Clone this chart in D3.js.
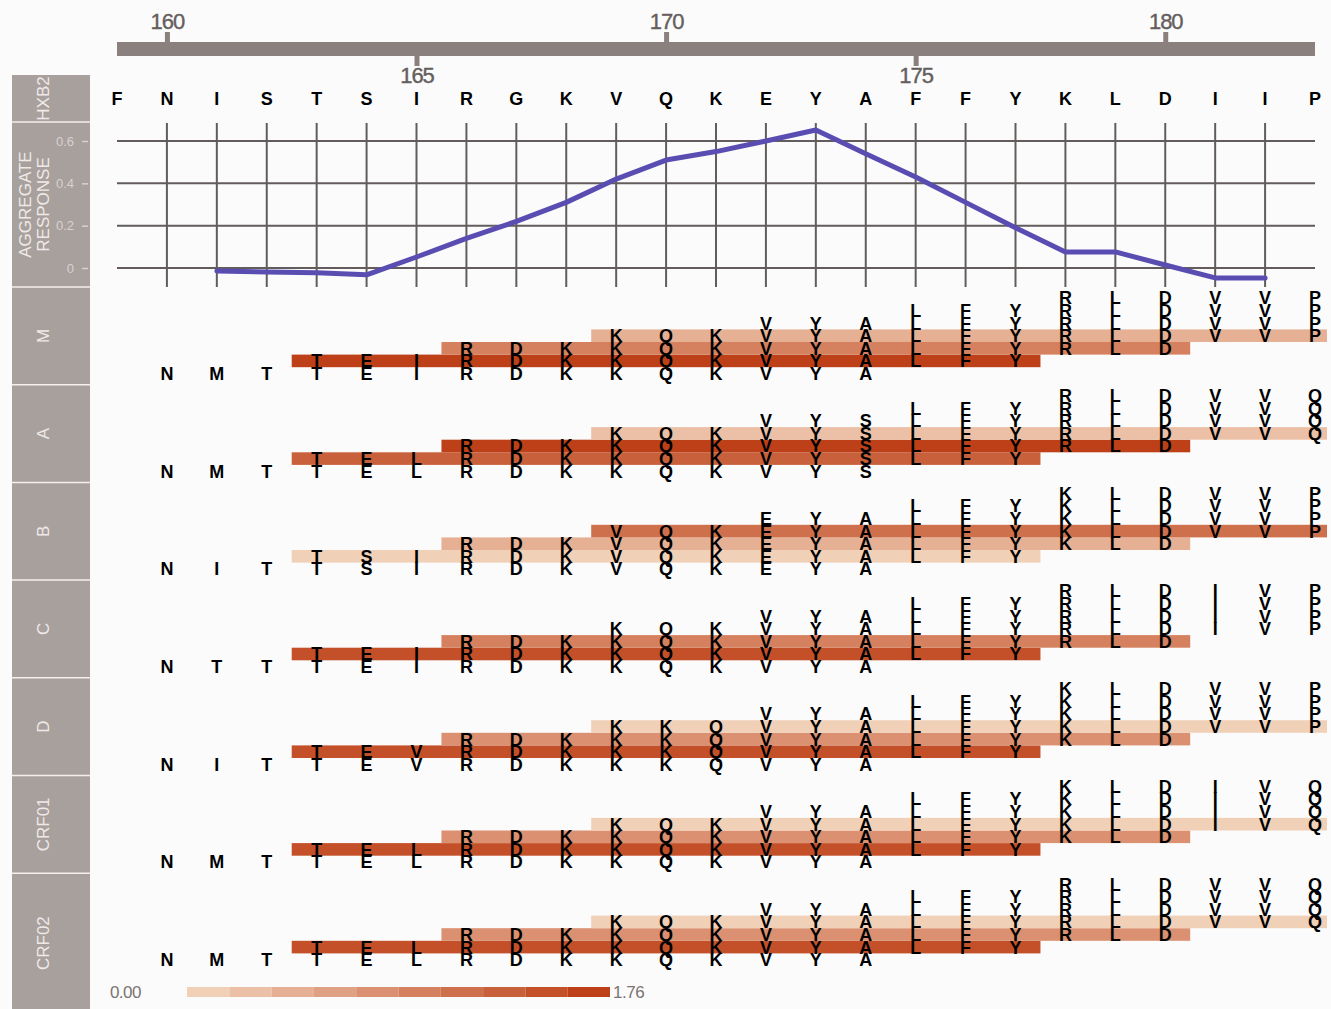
<!DOCTYPE html>
<html>
<head>
<meta charset="utf-8">
<script src="https://cdn.jsdelivr.net/npm/d3@7"></script>
<style>
  body { margin: 0; background: #fbfbfc; }
  svg { display: block; font-family: "Liberation Sans", Arial, Helvetica, sans-serif; }
</style>
</head>
<body>
<svg id="chart" width="1331" height="1009"></svg>
<script>
// HXB2 reference, positions 159..183
var firstPos = 159, lastPos = 183;
var hxb2 = "FNISTSIRGKVQKEYAFFYKLDIIP".split("");
var topTicksAbove = [160, 170, 180];
var topTicksBelow = [165, 175];

// aggregate response line
var respPos = [161, 162, 163, 164, 165, 166, 167, 168, 169, 170, 171,
               172, 173, 174, 175, 176, 177, 178, 179, 180, 181, 182];
var respVal = [-0.014, -0.019, -0.023, -0.032, 0.052, 0.14, 0.22, 0.31, 0.42, 0.51, 0.55,
               0.60, 0.652, 0.54, 0.43, 0.31, 0.19, 0.076, 0.076, 0.014, -0.047, -0.047];
var respTicks = [0, 0.2, 0.4, 0.6];

// subtypes, consensus from 160 to 183
var subtypes = ["M", "A", "B", "C", "D", "CRF01", "CRF02"];
var consensus = [
  "NMTTEIRDKKQKVYALFYRLDVVP",
  "NMTTELRDKKQKVYSLFYRLDVVQ",
  "NITTSIRDKVQKEYALFYKLDVVP",
  "NTTTEIRDKKQKVYALFYRLDIVP",
  "NITTEVRDKKKQVYALFYKLDVVP",
  "NMTTELRDKKQKVYALFYKLDIVQ",
  "NMTTELRDKKQKVYALFYRLDVVQ"
];
var seqStart = 160;

// 15-mer peptides, one row each, with their response
var peptideStarts = [160, 163, 166, 169, 172, 175, 178];
var peptideLen = 15;
var peptideResp = [
  [0, 1.62, 1.00, 0.40, 0, 0, 0],   // M
  [0, 1.30, 1.62, 0.25, 0, 0, 0],   // A
  [0, 0.08, 0.36, 1.22, 0, 0, 0],   // B
  [0, 1.58, 0.95, 0, 0, 0, 0],      // C
  [0, 1.50, 0.88, 0.15, 0, 0, 0],   // D
  [0, 1.55, 0.85, 0.15, 0, 0, 0],   // CRF01
  [0, 1.55, 0.72, 0.12, 0, 0, 0]    // CRF02
];
var colorMax = 1.76;
var colorSteps = 10;

var svg = d3.select("#chart");
var stripFill = "#a8a09d", gridCol = "#625d5c", axisCol = "#8a817e";

var x = d3.scaleLinear().domain([firstPos, lastPos]).range([117, 1315]);
var step = x(1) - x(0);
var y = d3.scaleLinear().domain([0, 0.6]).range([268, 141]);
var color = d3.scaleQuantize().domain([0, colorMax])
    .range(d3.quantize(d3.interpolateRgb("#f1d0b8", "#be4018"), colorSteps));

// ---- top position axis
svg.append("rect").attr("x", x(firstPos)).attr("y", 42)
    .attr("width", x(lastPos) - x(firstPos)).attr("height", 14).attr("fill", axisCol);

var topAx = svg.append("g").attr("transform", "translate(0,42)")
    .call(d3.axisTop(x).tickValues(topTicksAbove).tickSize(10).tickPadding(3).tickSizeOuter(0));
var botAx = svg.append("g").attr("transform", "translate(0,56)")
    .call(d3.axisBottom(x).tickValues(topTicksBelow).tickSize(10).tickPadding(1).tickSizeOuter(0));
[topAx, botAx].forEach(function(g) {
  g.select(".domain").remove();
  g.selectAll(".tick line").attr("stroke", axisCol).attr("stroke-width", 5);
  g.selectAll(".tick text").attr("fill", "#655e5c").attr("font-size", 22)
      .attr("letter-spacing", -1).attr("stroke", "#655e5c").attr("stroke-width", 0.4)
      .attr("font-family", "Liberation Sans, Arial, sans-serif");
});

// ---- left strips
function strip(y0, y1, lines) {
  svg.append("rect").attr("x", 12).attr("y", y0).attr("width", 78).attr("height", y1 - y0)
      .attr("fill", stripFill);
  var cy = (y0 + y1) / 2;
  var n = lines.length;
  lines.forEach(function(t, i) {
    var cx = 43 - (n - 1 - i) * 18;
    svg.append("text").attr("transform", "translate(" + cx + "," + cy + ") rotate(-90)")
        .attr("y", 6).attr("text-anchor", "middle").attr("font-size", 17)
        .attr("fill", "#efe9e7").text(t);
  });
}
strip(75, 122, ["HXB2"]);
strip(122, 287, ["AGGREGATE", "RESPONSE"]);
var panelTop = 287, panelH = 97.7;
subtypes.forEach(function(s, i) {
  var y0 = panelTop + i * panelH;
  var y1 = i === subtypes.length - 1 ? 1013 : y0 + panelH;
  strip(y0, y1, [s]);
});
// thin separators between strips
var seps = [122, 287].concat(subtypes.slice(1).map(function(s, i) { return panelTop + (i + 1) * panelH; }));
svg.selectAll("line.sep").data(seps).enter().append("line")
    .attr("x1", 12).attr("x2", 90).attr("y1", function(d) { return d; }).attr("y2", function(d) { return d; })
    .attr("stroke", "#f4eeec").attr("stroke-width", 1.5);

// ---- HXB2 row
svg.selectAll("text.hxb2").data(hxb2).enter().append("text")
    .attr("x", function(d, i) { return x(firstPos + i); })
    .attr("y", 98 + 6.5).attr("text-anchor", "middle")
    .attr("font-size", 18).attr("font-weight", "bold").attr("fill", "#000").text(function(d) { return d; });

// ---- aggregate response grid
var grid = svg.append("g");
grid.selectAll("line.h").data(respTicks).enter().append("line")
    .attr("x1", x(firstPos)).attr("x2", x(lastPos))
    .attr("y1", function(d) { return y(d); }).attr("y2", function(d) { return y(d); })
    .attr("stroke", gridCol).attr("stroke-width", 2);
grid.selectAll("line.v").data(d3.range(160, 183)).enter().append("line")
    .attr("x1", function(d) { return x(d); }).attr("x2", function(d) { return x(d); })
    .attr("y1", 123).attr("y2", 287)
    .attr("stroke", gridCol).attr("stroke-width", 2);

var yAx = svg.append("g").attr("transform", "translate(88,0)")
    .call(d3.axisLeft(y).tickValues(respTicks).tickSize(6).tickPadding(8)
      .tickFormat(function(d) { return d === 0 ? "0" : d3.format(".1f")(d); }));
yAx.select(".domain").remove();
yAx.selectAll(".tick line").attr("stroke", "#d8d1cf").attr("stroke-width", 1.5);
yAx.selectAll(".tick text").attr("fill", "#d8d1cf").attr("font-size", 13);

var line = d3.line().x(function(d, i) { return x(respPos[i]); }).y(function(d) { return y(d); });
svg.append("path").datum(respVal).attr("d", line).attr("fill", "none")
    .attr("stroke", "#5a4db2").attr("stroke-width", 5)
    .attr("stroke-linejoin", "round").attr("stroke-linecap", "round");

// ---- subtype panels
svg.append("clipPath").attr("id", "panelClip").append("rect")
    .attr("x", 100).attr("y", 0).attr("width", x(lastPos) + 12 - 100).attr("height", 1009);

var rowSp = 12.6, fs = 18, capH = 0.716 * fs;

subtypes.forEach(function(s, si) {
  var base = panelTop + si * panelH + 86.5;
  var seq = consensus[si].split("");
  var g = svg.append("g").attr("clip-path", "url(#panelClip)");

  var rows = peptideStarts.map(function(st, k) {
    return { start: st, end: st + peptideLen - 1, k: k, val: peptideResp[si][k] };
  });

  g.selectAll("rect.pep").data(rows.filter(function(r) { return r.val > 0; })).enter().append("rect")
      .attr("x", function(r) { return x(r.start) - step / 2; })
      .attr("width", function(r) { return x(r.end) - x(r.start) + step; })
      .attr("y", function(r) { return base - r.k * rowSp - rowSp / 2; })
      .attr("height", rowSp)
      .attr("fill", function(r) { return color(r.val); });

  var letters = [];
  rows.forEach(function(r) {
    for (var p = r.start; p <= Math.min(r.end, lastPos); p++) {
      letters.push({ p: p, k: r.k, aa: seq[p - seqStart] });
    }
  });
  letters.sort(function(a, b) { return b.k - a.k; });
  g.selectAll("text.aa").data(letters).enter().append("text")
      .attr("x", function(d) { return x(d.p); })
      .attr("y", function(d) { return base - d.k * rowSp + capH / 2; })
      .attr("text-anchor", "middle").attr("font-size", fs).attr("font-weight", "bold")
      .attr("fill", "#000").text(function(d) { return d.aa; });
});

// ---- colour legend
var lx = d3.scaleLinear().domain([0, colorMax]).range([187, 610]);
var bins = color.range().map(function(c) { return color.invertExtent(c); });
svg.selectAll("rect.leg").data(bins).enter().append("rect")
    .attr("x", function(d) { return lx(d[0]); })
    .attr("width", function(d) { return lx(d[1]) - lx(d[0]); })
    .attr("y", 987).attr("height", 10)
    .attr("fill", function(d) { return color((d[0] + d[1]) / 2); });
svg.append("text").attr("x", lx(0) - 46).attr("y", 992 + 6).attr("text-anchor", "end")
    .attr("font-size", 17).attr("fill", "#7a7371").attr("letter-spacing", -0.5)
    .text(d3.format(".2f")(0));
svg.append("text").attr("x", lx(colorMax) + 3).attr("y", 992 + 6)
    .attr("font-size", 17).attr("fill", "#7a7371").attr("letter-spacing", -0.5)
    .text(d3.format(".2f")(colorMax));
</script>
</body>
</html>
